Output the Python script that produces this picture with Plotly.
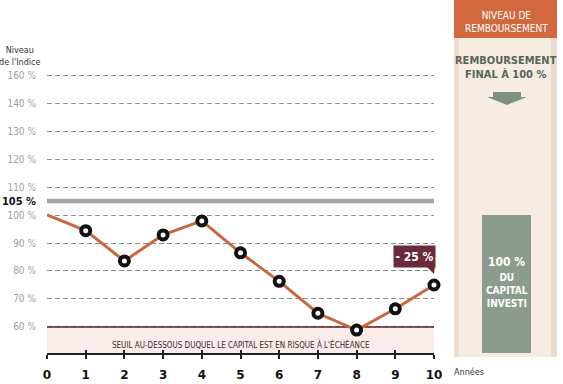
import plotly.graph_objects as go

# ---------------- data ----------------
years = [0, 1, 2, 3, 4, 5, 6, 7, 8, 9, 10]
index_level = [100, 94.4, 83.6, 92.9, 97.9, 86.5, 76.3, 64.9, 58.9, 66.5, 75.0]
y_tick_vals = [60, 70, 80, 90, 100, 105, 110, 120, 130, 140, 150]
y_tick_labels = ["60 %", "70 %", "80 %", "90 %", "100 %", "105 %",
                 "110 %", "120 %", "130 %", "140 %", "160 %"]
x_tick_labels = ["0", "1", "2", "3", "4", "5", "6", "7", "8", "9", "10"]
barrier_level = 60
autocall_level = 105
capital_level = 100
final_perf_label = "- 25 %"

# ---------------- layout geometry (pixels) ----------------
W_PX, H_PX = 563, 384
L, R, T, B = 47, 434, 60, 353
PW, PH = R - L, B - T
Y_MIN, Y_MAX = 50.71, 155.36


def px(x):
    return (x - L) / PW


def py(y):
    return (B - y) / PH


COND = "Liberation Sans Narrow, DejaVu Sans Condensed, Roboto, sans-serif"
LINE_COLOR = "#c9683f"
MAROON = "#6a2a3b"
GREEN = "#8b9b8e"
DARKGREEN = "#56665a"

ticktext = []
for v, t in zip(y_tick_vals, y_tick_labels):
    if v == autocall_level:
        ticktext.append("<span style='color:#111;font-size:11px'><b>" + t + "</b></span>")
    else:
        ticktext.append(t)

fig = go.Figure()
fig.add_trace(go.Scatter(
    x=years, y=index_level, mode="lines",
    line=dict(color=LINE_COLOR, width=3), hoverinfo="skip", cliponaxis=False))
fig.add_trace(go.Scatter(
    x=years[1:], y=index_level[1:], mode="markers",
    marker=dict(size=9, color="white", line=dict(color="#111", width=4)),
    cliponaxis=False))
# overlay axis for inner ticks
fig.add_trace(go.Scatter(x=[years[0]], y=[index_level[0]], xaxis="x2",
                         mode="markers", marker=dict(size=0, opacity=0),
                         hoverinfo="skip"))

shapes = []
# risk zone
shapes.append(dict(type="rect", xref="x", yref="y", x0=years[0], x1=years[-1],
                   y0=Y_MIN, y1=barrier_level, fillcolor="#fbeceb",
                   line=dict(width=0), layer="below"))
shapes.append(dict(type="line", xref="x", yref="y", x0=years[0], x1=years[-1],
                   y0=barrier_level, y1=barrier_level,
                   line=dict(color="#5a1e2c", width=1.5), layer="between"))
shapes.append(dict(type="line", xref="x", yref="y", x0=years[0], x1=years[-1],
                   y0=autocall_level, y1=autocall_level,
                   line=dict(color="#a6a6a6", width=4.5), layer="between"))
# right panel
shapes.append(dict(type="rect", xref="paper", yref="paper", x0=px(454), x1=px(557),
                   y0=py(357), y1=py(0), fillcolor="#f6ece2", line=dict(width=0),
                   layer="below"))
shapes.append(dict(type="rect", xref="paper", yref="paper", x0=px(454), x1=px(459),
                   y0=py(357), y1=py(37), fillcolor="#ecdfd2", line=dict(width=0),
                   layer="below"))
shapes.append(dict(type="rect", xref="paper", yref="paper", x0=px(551), x1=px(557),
                   y0=py(357), y1=py(37), fillcolor="#e9dbcd", line=dict(width=0),
                   layer="below"))
shapes.append(dict(type="rect", xref="paper", yref="paper", x0=px(454), x1=px(557),
                   y0=py(38), y1=py(0), fillcolor="#d2683e", line=dict(width=0),
                   layer="below"))
# arrow
shapes.append(dict(type="path", xref="paper", yref="paper",
                   path="M {a},{b} L {c},{b} L {c},{d} L {e},{d} L {f},{g} L {h},{d} L {a2},{d} Z".format(
                       a=px(493), b=py(92), c=px(521), d=py(97), e=px(527),
                       f=px(507), g=py(105), h=px(487), a2=px(493)),
                   fillcolor="#7c9183", line=dict(width=0)))
# capital box
shapes.append(dict(type="rect", xref="paper", yref="y", x0=px(482), x1=px(531),
                   y0=Y_MIN, y1=capital_level, fillcolor=GREEN, line=dict(width=0)))
# callout tail
shapes.append(dict(type="path", xref="paper", yref="paper",
                   path="M {a},{b} L {c},{b} L {d},{e} Z".format(
                       a=px(426), b=py(266), c=px(435), d=px(434), e=py(274)),
                   fillcolor=MAROON, line=dict(width=0)))

ann = []
ann.append(dict(xref="paper", yref="paper", x=px(20), y=py(56), text="Niveau<br>de l'Indice",
                showarrow=False, font=dict(family=COND, size=9, color="#333"),
                xanchor="center", yanchor="middle", align="center"))
ann.append(dict(xref="paper", yref="paper", x=px(452), y=py(372), text="Années",
                showarrow=False, font=dict(family=COND, size=9, color="#333"),
                xanchor="left", yanchor="middle"))
ann.append(dict(xref="x", yref="paper", x=5, y=py(344),
                text="SEUIL AU-DESSOUS DUQUEL LE CAPITAL EST EN RISQUE À L'ÉCHÉANCE",
                showarrow=False, font=dict(family=COND, size=8, color="#3a2a2a"),
                xanchor="center", yanchor="middle"))
ann.append(dict(xref="paper", yref="paper", x=px(414.5), y=py(256.5), text="<b>" + final_perf_label + "</b>",
                showarrow=False, font=dict(family=COND, size=12, color="white"),
                bgcolor=MAROON, width=41, height=21, borderpad=0,
                xanchor="center", yanchor="middle"))
ann.append(dict(xref="paper", yref="paper", x=px(506), y=py(22),
                text="NIVEAU DE<br>REMBOURSEMENT", showarrow=False,
                font=dict(family=COND, size=10, color="white"),
                xanchor="center", yanchor="middle", align="center"))
ann.append(dict(xref="paper", yref="paper", x=px(506), y=py(67),
                text="<b>REMBOURSEMENT<br>FINAL À 100 %</b>", showarrow=False,
                font=dict(family=COND, size=11, color=DARKGREEN),
                xanchor="center", yanchor="middle", align="center"))
ann.append(dict(xref="paper", yref="paper", x=px(506.5), y=py(262),
                text="<b>100 %</b>", showarrow=False,
                font=dict(family=COND, size=12, color="white"),
                xanchor="center", yanchor="middle"))
ann.append(dict(xref="paper", yref="paper", x=px(506.5), y=py(290),
                text="<b>DU<br>CAPITAL<br>INVESTI</b>", showarrow=False,
                font=dict(family=COND, size=10, color="white"),
                xanchor="center", yanchor="middle", align="center"))

fig.update_layout(
    width=W_PX, height=H_PX,
    margin=dict(l=L, r=W_PX - R, t=T, b=H_PX - B, pad=0, autoexpand=False),
    paper_bgcolor="white", plot_bgcolor="white",
    showlegend=False,
    shapes=shapes, annotations=ann,
    xaxis=dict(range=[years[0], years[-1]], tickvals=years, ticktext=x_tick_labels,
               showgrid=False, zeroline=False, showline=True, linecolor="#222",
               linewidth=1.5, ticks="outside", ticklen=4, tickwidth=1.5,
               tickcolor="#222", ticklabelstandoff=6, automargin=False,
               tickfont=dict(family="DejaVu Sans", size=12, color="#111", weight="bold")),
    xaxis2=dict(range=[years[0], years[-1]], overlaying="x", anchor="y",
                tickvals=years, showticklabels=False, showgrid=False,
                zeroline=False, ticks="inside", ticklen=3, tickwidth=1.5,
                tickcolor="#222", automargin=False),
    yaxis=dict(range=[Y_MIN, Y_MAX], tickvals=y_tick_vals, ticktext=ticktext,
               showgrid=True, gridcolor="#8c8c8c", griddash="5px,3px",
               gridwidth=1, zeroline=False, showline=False, ticks="",
               ticklabelstandoff=10, automargin=False,
               tickfont=dict(family=COND, size=10, color="#a0a0a0")),
)

fig.write_html("out.html", config={"displayModeBar": False},
               post_script="document.body.style.margin='0';document.body.style.overflow='hidden';")
